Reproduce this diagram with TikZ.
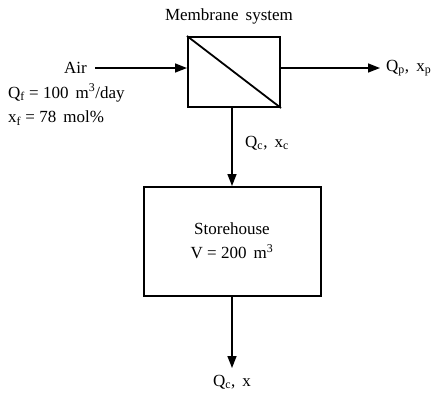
\documentclass[tikz,border=0pt]{standalone}
\usepackage{fontspec}
\setmainfont{Liberation Serif}
\usetikzlibrary{arrows.meta}
\begin{document}
\begin{tikzpicture}[x=1pt,y=-1pt,
  lbl/.style={font=\fontsize{17}{20}\selectfont, inner sep=0pt},
  boxline/.style={draw, line width=2pt},
  flow/.style={line width=1.5pt, -{Triangle[length=12pt,width=9pt]}}]
\useasboundingbox (0,0) rectangle (433,392);
% membrane box
\node[boxline, minimum width=92pt, minimum height=70pt, inner sep=0pt] (mem) at (234,72) {};
\draw[line width=1.8pt] (mem.north west) -- (mem.south east);
\node[lbl] (title) at (229,16) {Membrane \,system};
% feed
\node[lbl, anchor=east] (air) at (87,68) {Air};
\coordinate (airs) at (95,68);
\draw[flow] (airs) -- (mem.west |- 0,68);
\node[lbl, anchor=west] (qf) at (8,93) {Q\textsubscript{f} = 100 \,m\textsuperscript{3}/day};
\node[lbl, anchor=west] (xf) at (8,118) {x\textsubscript{f} = 78 \,mol\%};
% permeate
\coordinate (pend) at (380,68);
\draw[flow] (mem.east |- 0,68) -- (pend);
\node[lbl, anchor=west] (qp) at (386,68) {Q\textsubscript{p}, \,x\textsubscript{p}};
% storehouse
\node[boxline, minimum width=177pt, minimum height=109pt, inner sep=0pt] (store) at (232.5,241.5) {};
\node[lbl] (st1) at (232,229) {Storehouse};
\node[lbl] (st2) at (232,252) {V = 200 \,m\textsuperscript{3}};
% concentrate
\draw[flow] (232,107) -- (store.north -| 232,0);
\node[lbl, anchor=west] (qc) at (245,143) {Q\textsubscript{c}, \,x\textsubscript{c}};
% outlet
\coordinate (oend) at (232,368);
\draw[flow] (store.south -| 232,0) -- (oend);
\node[lbl] (qo) at (232,382) {Q\textsubscript{c}, \,x};
\end{tikzpicture}
\end{document}
